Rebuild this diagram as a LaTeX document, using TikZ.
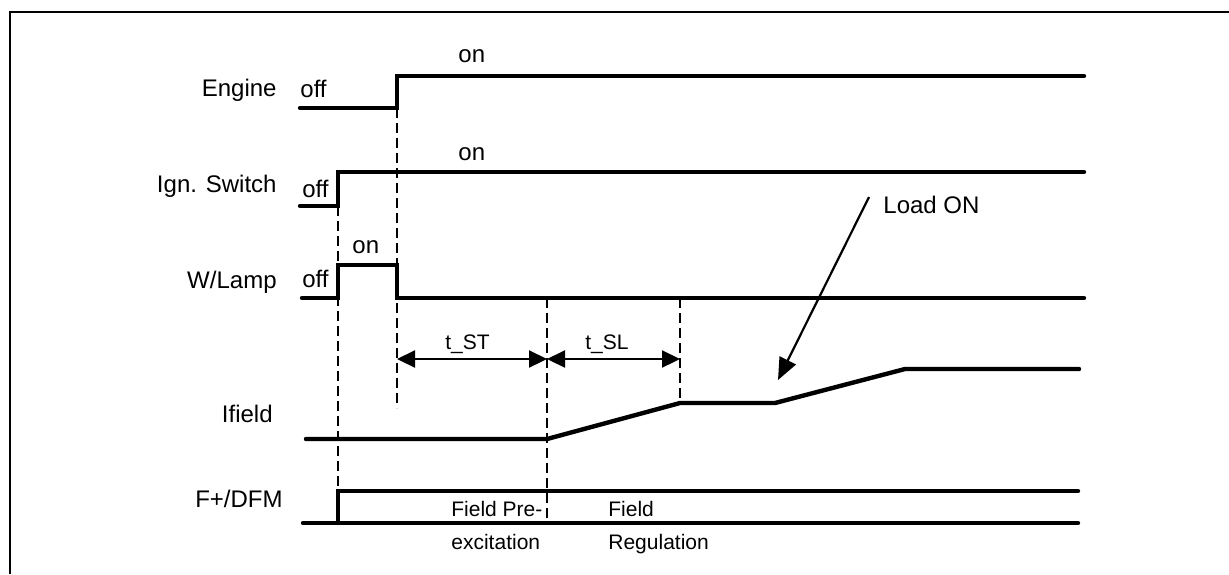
\documentclass[tikz,border=0pt]{standalone}
\usepackage{fontspec}
\setmainfont{Liberation Sans}
\usetikzlibrary{arrows.meta,positioning}

\tikzset{
  wave/.style={line width=2.2pt, line cap=round, line join=miter},
  guide/.style={line width=1.2pt, dash pattern=on 5pt off 2.5pt},
  frame/.style={line width=1.1pt},
  signame/.style={anchor=base east, inner sep=0pt, font=\fontsize{12}{14}\selectfont},
  state/.style={anchor=base west, inner sep=0pt, font=\fontsize{12}{14}\selectfont},
  note/.style={anchor=base west, inner sep=0pt, font=\fontsize{10.5}{12}\selectfont},
  span/.style={{Triangle[length=9pt,width=8.5pt]}-{Triangle[length=9pt,width=8.5pt]}, line width=1.1pt},
}

\begin{document}
\begin{tikzpicture}[x=0.5pt,y=-0.5pt]
  \useasboundingbox (0,0) rectangle (1229,574);
  \draw[frame] (10,574) -- (10,12) -- (1229,12);

  % signal names
  \node[signame] (engine) at (277,96)  {Engine};
  \node[signame] (ign)    at (277,192) {Ign. Switch};
  \node[signame] (lamp)   at (277,288) {W/Lamp};
  \node[signame] (ifield) at (273,422) {Ifield};
  \node[signame] (dfm)    at (283,507) {F+/DFM};

  % states
  \node[state] (engoff)  at (300,97)  {off};
  \node[state] (engon)   at (458,62)  {on};
  \node[state] (ignoff)  at (302,197) {off};
  \node[state] (ignon)   at (458,160) {on};
  \node[state] (lampoff) at (302,287) {off};
  \node[state] (lampon)  at (352,253) {on};

  % waveforms
  \draw[wave] (300,108) -- (397,108) -- (397,76) -- (1084,76);
  \draw[wave] (300,206) -- (338,206) -- (338,172) -- (1084,172);
  \draw[wave] (302,298) -- (338,298) -- (338,265) -- (397,265) -- (397,298) -- (1084,298);
  \draw[wave] (306,439) -- (547,439) -- (680,403) -- (775,403) -- (905,369) -- (1079,369);
  \draw[wave] (303,523) -- (1078,523);
  \draw[wave] (338,523) -- (338,491) -- (1078,491);

  % guide lines
  \draw[guide] (338,206) -- (338,491);
  \draw[guide] (397,108) -- (397,408);
  \draw[guide] (547,298) -- (547,523);
  \draw[guide] (680,298) -- (680,403);

  % intervals
  \coordinate (st0) at (397,359);
  \coordinate (st1) at (547,359);
  \coordinate (sl1) at (680,359);
  \draw[span] (st0) -- (st1);
  \draw[span] (st1) -- (sl1);
  \node[note] (tst) at (445,349) {t\_ST};
  \node[note] (tsl) at (585,349) {t\_SL};

  % phases
  \node[note] (pre1) at (451,516) {Field Pre-};
  \node[note] (pre2) at (451,549) {excitation};
  \node[note] (reg1) at (608,516) {Field};
  \node[note] (reg2) at (608,549) {Regulation};

  % load step
  \node[state] (load) at (883,213) {Load ON};
  \coordinate (loadtail) at (869,197);
  \coordinate (loadtip) at (778,380);
  \draw[-{Triangle[length=11pt,width=9pt]}, line width=1.1pt] (loadtail) -- (loadtip);
\end{tikzpicture}
\end{document}
